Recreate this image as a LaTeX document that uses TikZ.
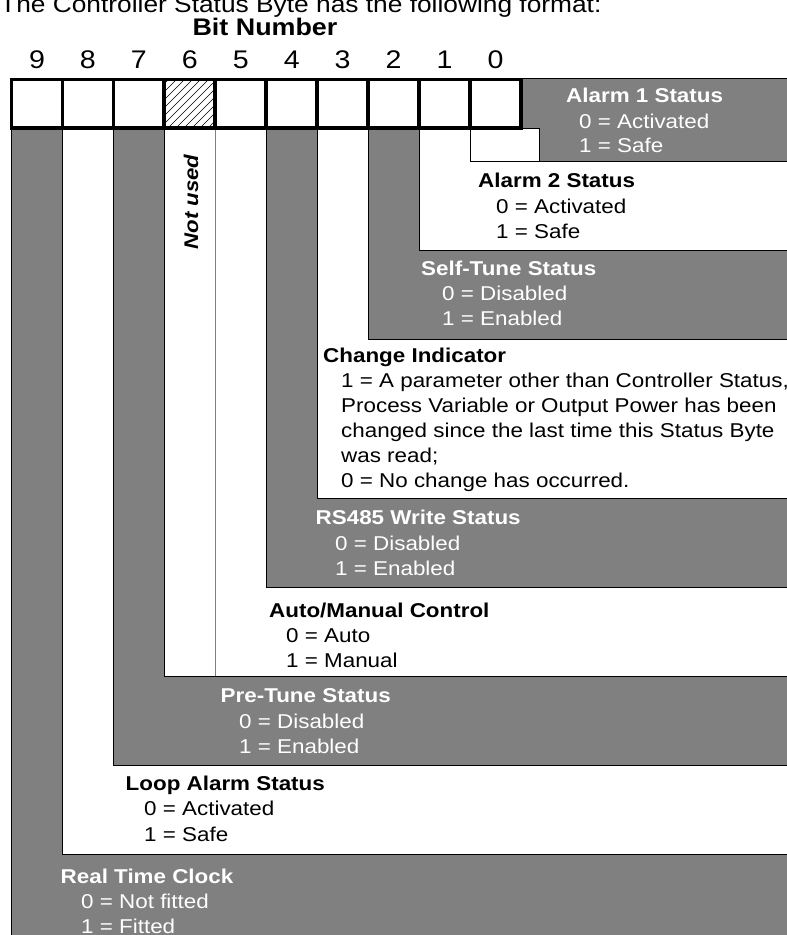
\documentclass[tikz,border=0pt]{standalone}
\usepackage{fontspec}
\newfontfamily\arialx{Liberation Sans}[FakeStretch=1.12]
\definecolor{bandgray}{HTML}{808080}
\begin{document}
\begin{tikzpicture}[x=1pt,y=-1pt,
  lab/.style={font=\arialx\fontsize{20}{24}\selectfont, anchor=base west, inner sep=0pt},
  labtitle/.style={lab, font=\arialx\bfseries\fontsize{20}{24}\selectfont},
  onGray/.style={text=white},
  grayband/.style={fill=bandgray, draw=black, line width=0.8pt},
  whiteband/.style={fill=white, draw=black, line width=0.8pt},
  cell/.style={draw=black, line width=3.8pt, minimum width=50.95pt, minimum height=48.5pt, inner sep=0pt, outer sep=0pt},
  digit/.style={font=\arialx\fontsize{25.5}{28}\selectfont, anchor=base, inner sep=0pt}
]
\useasboundingbox (0,0) rectangle (787,935);

% ---- nested bands (bit 9 outermost ... bit 0 innermost)
\path[grayband]  (11.5,128)   rectangle (800,960);  % bit 9
\path[whiteband] (62.45,128)  rectangle (800,854);  % bit 8
\path[grayband]  (113.4,128)  rectangle (800,765);  % bit 7
\path[whiteband] (164.35,128) rectangle (800,676);  % bit 6 / 5
\draw[gray, line width=0.8pt] (215.3,128) -- (215.3,676); % bit 5 edge
\path[grayband]  (266.25,128) rectangle (800,587);  % bit 4
\path[whiteband] (317.2,128)  rectangle (800,498);  % bit 3
\path[grayband]  (368.15,128) rectangle (800,339);  % bit 2
\path[whiteband] (419.1,128)  rectangle (800,250);  % bit 1
\path[grayband]  (521,78) -- (800,78) -- (800,161) -- (539,161) -- (539,128) -- (521,128) -- cycle; % bit 0
\path[whiteband] (470.05,128) rectangle (539,161);

% ---- hatch of bit 6
\begin{scope}
  \clip (164.35,79.75) rectangle (215.3,128);
  \foreach \i in {112,120,...,216} \draw[line width=0.5pt] (\i,128) -- ++(50,-50);
\end{scope}

% ---- bit cells
\foreach \k/\b in {0/9,1/8,2/7,3/6,4/5,5/4,6/3,7/2,8/1,9/0} {
  \pgfmathsetmacro{\cx}{11.5+50.95*\k+25.475}
  \ifnum\b=6
    \node[cell] (c\b) at (\cx,103.75) {};
  \else
    \node[cell, fill=white] (c\b) at (\cx,103.75) {};
  \fi
  \node[digit] (d\b) at (\cx,68) {\b};
}

% ---- headings
\node[anchor=base west, inner sep=0pt, font=\arialx\fontsize{23.5}{28}\selectfont] (intro) at (0,12) {The Controller Status Byte has the following format:};
\node[anchor=base, inner sep=0pt, font=\arialx\bfseries\fontsize{24}{28}\selectfont] (bitnum) at (265,35) {Bit Number};

% ---- Not used
\node[inner sep=0pt, rotate=90, font=\arialx\bfseries\itshape\fontsize{19.8}{24}\selectfont] (notused) at (191,202) {Not used};

% ---- labels
\node[labtitle, onGray] (t0) at (566,102) {Alarm 1 Status};
\node[lab, onGray] (t0a) at (579,128) {0 = Activated};
\node[lab, onGray] (t0b) at (579,152) {1 = Safe};

\node[labtitle] (t1) at (478,187) {Alarm 2 Status};
\node[lab] (t1a) at (496,213) {0 = Activated};
\node[lab] (t1b) at (496,238) {1 = Safe};

\node[labtitle, onGray] (t2) at (421,275) {Self-Tune Status};
\node[lab, onGray] (t2a) at (442,300) {0 = Disabled};
\node[lab, onGray] (t2b) at (442,325) {1 = Enabled};

\node[labtitle] (t3) at (323,362) {Change Indicator};
\node[lab] (t3a) at (341,387) {1 = A parameter other than Controller Status,};
\node[lab] (t3b) at (341,412) {Process Variable or Output Power has been};
\node[lab] (t3c) at (341,437) {changed since the last time this Status Byte};
\node[lab] (t3d) at (341,462) {was read;};
\node[lab] (t3e) at (341,487) {0 = No change has occurred.};

\node[labtitle, onGray] (t4) at (315.5,524) {RS485 Write Status};
\node[lab, onGray] (t4a) at (335,550) {0 = Disabled};
\node[lab, onGray] (t4b) at (335,575) {1 = Enabled};

\node[labtitle] (t5) at (269,617) {Auto/Manual Control};
\node[lab] (t5a) at (286,642) {0 = Auto};
\node[lab] (t5b) at (286,667) {1 = Manual};

\node[labtitle, onGray] (t7) at (220.5,702) {Pre-Tune Status};
\node[lab, onGray] (t7a) at (239,728) {0 = Disabled};
\node[lab, onGray] (t7b) at (239,753) {1 = Enabled};

\node[labtitle] (t8) at (125.5,790) {Loop Alarm Status};
\node[lab] (t8a) at (144,815) {0 = Activated};
\node[lab] (t8b) at (144,841) {1 = Safe};

\node[labtitle, onGray] (t9) at (60.5,883) {Real Time Clock};
\node[lab, onGray] (t9a) at (81,908) {0 = Not fitted};
\node[lab, onGray] (t9b) at (81,933) {1 = Fitted};
\end{tikzpicture}
\end{document}
